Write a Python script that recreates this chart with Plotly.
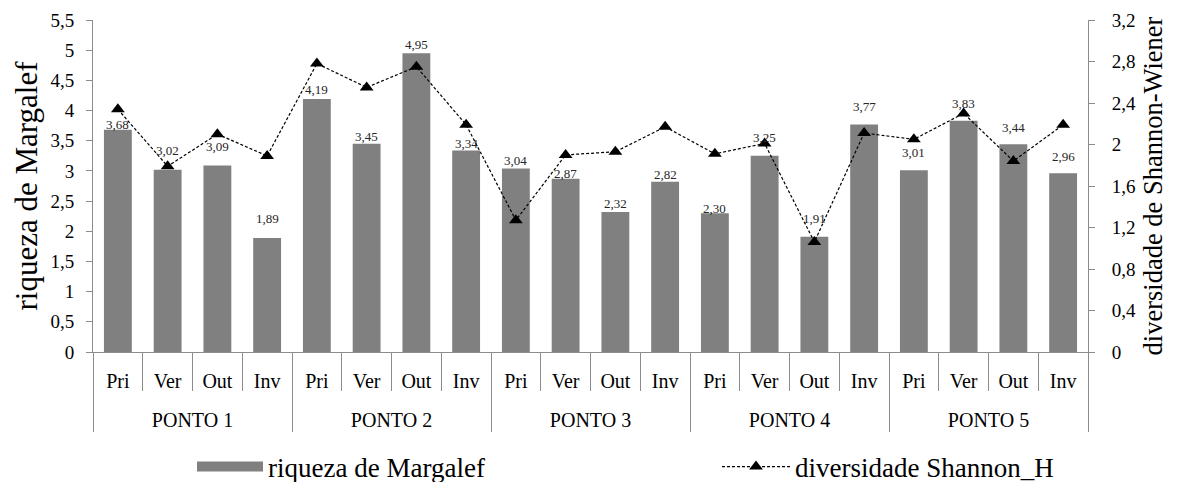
import plotly.graph_objects as go

# Sampling points and seasons (two-level category axis)
pontos = ["PONTO 1", "PONTO 2", "PONTO 3", "PONTO 4", "PONTO 5"]
estacoes = ["Pri", "Ver", "Out", "Inv"]

# Margalef richness per point/season (bars, left axis)
margalef = [3.68, 3.02, 3.09, 1.89,
            4.19, 3.45, 4.95, 3.34,
            3.04, 2.87, 2.32, 2.82,
            2.30, 3.25, 1.91, 3.77,
            3.01, 3.83, 3.44, 2.96]

# Shannon-Wiener diversity per point/season (line, right axis)
shannon = [2.34, 1.79, 2.10, 1.89,
           2.78, 2.55, 2.75, 2.19,
           1.27, 1.90, 1.93, 2.17,
           1.91, 2.01, 1.06, 2.11,
           2.05, 2.30, 1.84, 2.19]

# vertical lift (px) of each value label above its bar top
label_lift = [5, 19, 19, 19,
              10, 7, 9, 7,
              8, 5, 8, 7,
              5, 18, 18, 18,
              18, 17, 17, 17]

FONT = "Liberation Serif"
AXIS_GRAY = "#8c8c8c"
BAR_GRAY = "#808080"

# outer level gets a leading blank line so it sits in its own band
grupo = ["<br>" + p for p in pontos for _ in estacoes]
estacao = [e for _ in pontos for e in estacoes]
x_multi = [grupo, estacao]

fig = go.Figure()

# legend-only entry giving the bar series a wide rectangular key
fig.add_trace(go.Scatter(
    x=[None], y=[None], xaxis="x3", yaxis="y3",
    name="riqueza de Margalef", mode="lines",
    line=dict(color=BAR_GRAY, width=14),
    hoverinfo="skip", legend="legend",
))

fig.add_trace(go.Bar(
    x=x_multi, y=margalef,
    name="riqueza de Margalef",
    marker=dict(color=BAR_GRAY, line=dict(width=0)),
    yaxis="y", showlegend=False,
))

fig.add_trace(go.Scatter(
    x=x_multi, y=shannon,
    name="diversidade Shannon_H",
    mode="lines+markers",
    line=dict(color="black", width=1.2, dash="3px,2px"),
    marker=dict(symbol="triangle-up", size=12, color="black"),
    yaxis="y2", legend="legend2",
))

# value labels above the bars
for i, v in enumerate(margalef):
    fig.add_annotation(
        x=i, y=v, xref="x", yref="y",
        text=f"{v:.2f}".replace(".", ","),
        showarrow=False, yanchor="middle", yshift=label_lift[i],
        font=dict(family=FONT, size=13, color="#262626"),
    )

legend_common = dict(
    orientation="h", xref="container", yref="container",
    xanchor="left", y=1 - 467 / 482, yanchor="middle",
    font=dict(family=FONT, size=27, color="black"),
    bgcolor="rgba(0,0,0,0)",
)

fig.update_layout(
    width=1178, height=482,
    margin=dict(l=93, r=90, t=20, b=130),
    paper_bgcolor="white", plot_bgcolor="white",
    font=dict(family=FONT, color="black"),
    separators=",.",
    bargap=0.44,
    showlegend=True,
    legend=dict(legend_common, x=192 / 1178, itemwidth=66),
    legend2=dict(legend_common, x=717 / 1178, itemwidth=68),
    xaxis=dict(
        type="multicategory", range=[-0.5, 19.5],
        showline=True, linecolor=AXIS_GRAY, linewidth=1,
        ticks="outside", tickson="boundaries", ticklen=38, tickcolor=AXIS_GRAY,
        ticklabelstandoff=11,
        tickfont=dict(family=FONT, size=20, color="black"),
        showdividers=True, dividercolor=AXIS_GRAY, dividerwidth=1,
        showgrid=False, automargin=False,
    ),
    xaxis3=dict(overlaying="x", visible=False),
    yaxis3=dict(overlaying="y", visible=False),
    yaxis=dict(
        range=[0, 5.5], tick0=0, dtick=0.5,
        ticks="outside", ticklen=6, tickcolor=AXIS_GRAY,
        ticklabelstandoff=8,
        showline=True, linecolor=AXIS_GRAY, linewidth=1,
        showgrid=False, zeroline=False,
        tickfont=dict(family=FONT, size=19, color="black"),
        title=dict(text="riqueza de Margalef", standoff=3,
                   font=dict(family=FONT, size=31, color="black")),
        automargin=False,
    ),
    yaxis2=dict(
        overlaying="y", side="right",
        range=[0, 3.2], tick0=0, dtick=0.4,
        ticks="outside", ticklen=6, tickcolor=AXIS_GRAY,
        ticklabelstandoff=13,
        showline=True, linecolor=AXIS_GRAY, linewidth=1,
        showgrid=False, zeroline=False,
        tickfont=dict(family=FONT, size=19, color="black"),
        title=dict(text="diversidade de Shannon-Wiener", standoff=8,
                   font=dict(family=FONT, size=26.5, color="black")),
        automargin=False,
    ),
)

fig.write_html("out.html")
